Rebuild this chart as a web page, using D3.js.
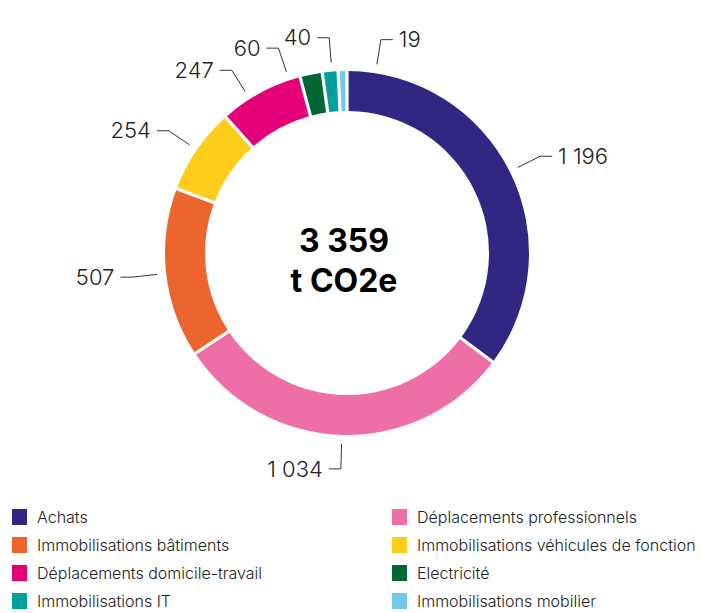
<!DOCTYPE html>
<html>
<head>
<meta charset="utf-8">
<script src="https://cdn.jsdelivr.net/npm/d3@7"></script>
<style>
  body { margin: 0; background: #fff; font-family: Inter, "Noto Sans", sans-serif; }
</style>
</head>
<body>
<div id="chart"></div>
<script>
// data
var categories = [
  "Achats",
  "Déplacements professionnels",
  "Immobilisations bâtiments",
  "Immobilisations véhicules de fonction",
  "Déplacements domicile-travail",
  "Electricité",
  "Immobilisations IT",
  "Immobilisations mobilier"
];
var values = [1196, 1034, 507, 254, 247, 60, 40, 19];
var colors = ["#312783", "#ee6fa7", "#ec652f", "#fecc1a", "#e5007a", "#006633", "#00a19a", "#70c8ec"];
var totalValue = 3359;
var totalUnit = "t CO2e";

var width = 701, height = 613;
var svg = d3.select("#chart").append("svg").attr("width", width).attr("height", height);

var cx = 347, cy = 253,
    outer = 182, inner = 142;

var g = svg.append("g").attr("transform", "translate(" + cx + "," + cy + ")");

var fr = d3.formatLocale({ decimal: ",", thousands: "\u00a0", grouping: [3], currency: ["", " €"] });
var fmt = fr.format(",d");

var data = categories.map(function(c, i) { return { name: c, value: values[i], color: colors[i] }; });

var pie = d3.pie().sort(null).value(function(d) { return d.value; }).padAngle(0.014);
var arcs = pie(data);
var arc = d3.arc().innerRadius(inner).outerRadius(outer);

g.selectAll("path.slice")
  .data(arcs)
  .enter().append("path")
    .attr("class", "slice")
    .attr("d", arc)
    .attr("fill", function(d) { return d.data.color; });

// label angles: centroid, then spread apart where they crowd
var angles = arcs.map(function(d) { return (d.startAngle + d.endAngle) / 2; });
var minGap = 0.24;
for (var k = 0; k < 60; k++) {
  for (var i = 0; i < angles.length - 1; i++) {
    var gap = angles[i + 1] - angles[i];
    if (gap < minGap) {
      var s = (minGap - gap) / 2;
      angles[i] -= s;
      angles[i + 1] += s;
    }
  }
}

var r1 = outer + 9, r2 = outer + 34, leg = 12;

var labels = g.append("g").selectAll("g")
  .data(arcs)
  .enter().append("g");

labels.each(function(d, i) {
  var a = angles[i];
  var x1 = Math.sin(a) * r1, y1 = -Math.cos(a) * r1;
  var x2 = Math.sin(a) * r2, y2 = -Math.cos(a) * r2;
  var side = Math.sin(a) >= 0 ? 1 : -1;
  var x3 = x2 + side * leg;
  var el = d3.select(this);
  el.append("polyline")
    .attr("points", [[x1, y1], [x2, y2], [x3, y2]].map(function(p) { return p.join(","); }).join(" "))
    .attr("fill", "none")
    .attr("stroke", "#333")
    .attr("stroke-width", 1);
  el.append("text")
    .attr("x", x3 + side * 6)
    .attr("y", y2)
    .attr("dy", "0.35em")
    .attr("text-anchor", side > 0 ? "start" : "end")
    .attr("font-size", 22)
    .attr("font-weight", 300)
    .attr("fill", "#222")
    .text(fmt(d.value));
});

// centre total
var fmtTotal = d3.formatLocale({ decimal: ",", thousands: " ", grouping: [3], currency: ["", ""] }).format(",d");
g.append("text")
  .attr("x", -3).attr("y", -1)
  .attr("text-anchor", "middle")
  .attr("font-size", 32)
  .attr("font-weight", 700)
  .attr("fill", "#000")
  .text(fmtTotal(totalValue));
g.append("text")
  .attr("x", -3).attr("y", 39)
  .attr("text-anchor", "middle")
  .attr("font-size", 32)
  .attr("font-weight", 700)
  .attr("fill", "#000")
  .text(totalUnit);

// legend, two columns
var legend = svg.append("g").selectAll("g")
  .data(data)
  .enter().append("g")
    .attr("transform", function(d, i) {
      return "translate(" + (i % 2 ? 392 : 12) + "," + (509 + Math.floor(i / 2) * 28) + ")";
    });

legend.append("rect")
  .attr("width", 15).attr("height", 16)
  .attr("fill", function(d) { return d.color; });

legend.append("text")
  .attr("x", 25).attr("y", 8)
  .attr("dy", "0.35em")
  .attr("font-size", 16)
  .attr("font-weight", 300)
  .attr("fill", "#222")
  .text(function(d) { return d.name; });
</script>
</body>
</html>
